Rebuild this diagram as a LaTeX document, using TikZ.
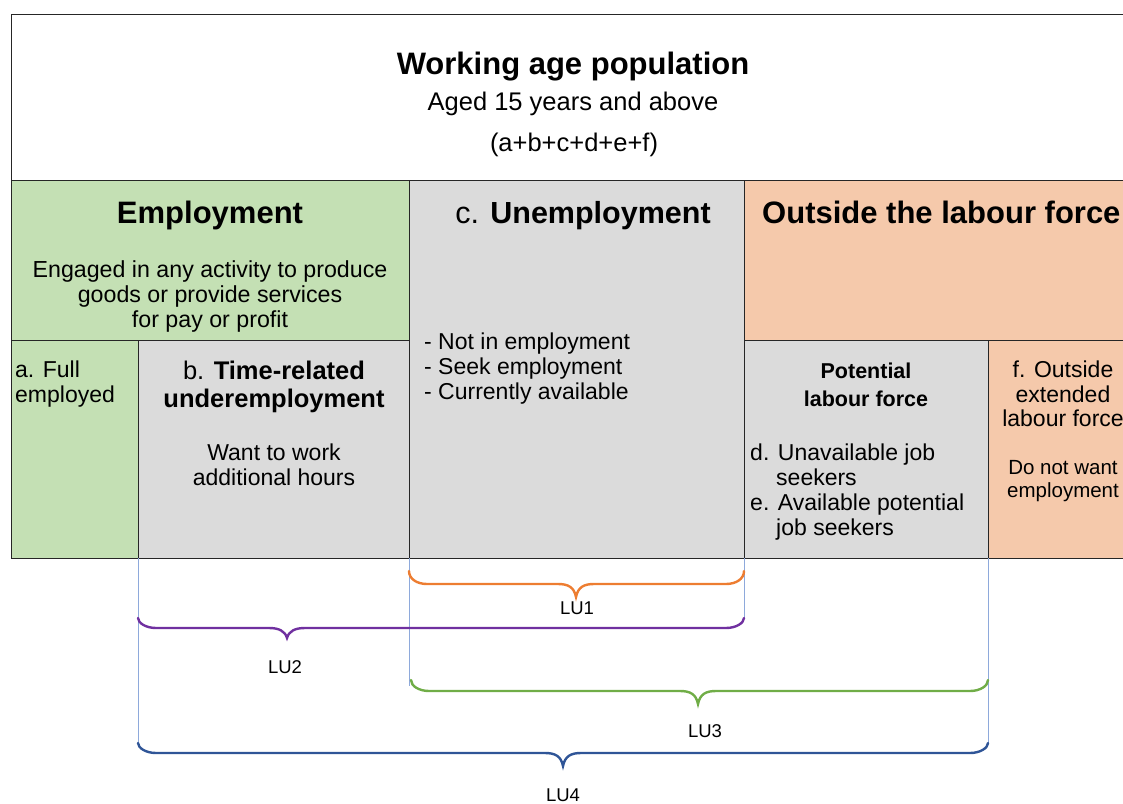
\documentclass[tikz,border=0pt]{standalone}
\usepackage{fontspec}
\setmainfont{Liberation Sans}
\definecolor{empgreen}{RGB}{196,224,180}
\definecolor{ungray}{RGB}{219,219,219}
\definecolor{outpeach}{RGB}{245,201,171}
\definecolor{luorange}{RGB}{237,125,49}
\definecolor{lupurple}{RGB}{112,48,160}
\definecolor{lugreen}{RGB}{112,173,71}
\definecolor{lublue}{RGB}{47,85,151}
\definecolor{guide}{RGB}{142,169,219}
\newcommand{\fs}[1]{\fontsize{#1}{#1}\selectfont}
% colour, x-left, x-right, x-tip, y-end, y-line, y-tip
\newcommand{\lubrace}[7]{%
  \draw[#1,line width=2.4pt,line cap=round]
    (#2,#5) .. controls (#2,{#6-5}) and ({#2+8},#6) .. ({#2+18},#6)
    -- ({#4-18},#6) .. controls ({#4-8},#6) and ({#4-2},{#6+3}) .. (#4,#7)
    .. controls ({#4+2},{#6+3}) and ({#4+8},#6) .. ({#4+18},#6)
    -- ({#3-18},#6) .. controls ({#3-8},#6) and (#3,{#6-5}) .. (#3,#5);}
\begin{document}
\begin{tikzpicture}[x=1pt,y=-1pt,
  box/.style={draw=black!85,line width=1pt},
  txt/.style={anchor=base,inner sep=0pt},
  guideline/.style={draw=guide,line width=0.8pt}]
\useasboundingbox (0,0) rectangle (1123,803);
\clip (0,0) rectangle (1123,803);
% boxes
\path[box,fill=white] (11,14) rectangle (1140,180);
\path[box,fill=empgreen] (11,180) rectangle (409,340);
\path[box,fill=ungray] (409,180) rectangle (744,558);
\path[box,fill=outpeach] (744,180) rectangle (1140,340);
\path[box,fill=empgreen] (11,340) rectangle (138,558);
\path[box,fill=ungray] (138,340) rectangle (409,558);
\path[box,fill=ungray] (744,340) rectangle (988,558);
\path[box,fill=outpeach] (988,340) rectangle (1140,558);
% top texts
\node[txt,font=\fs{31}\bfseries] (t1) at (573,74) {Working age population};
\node[txt,font=\fs{25.5}] (t2) at (573,110) {Aged 15 years and above};
\node[txt,font=\fs{25.5}] (t3) at (574,151) {(a+b+c+d+e+f)};
% employment
\node[txt,font=\fs{31}\bfseries] (e1) at (210,223) {Employment};
\node[txt,font=\fs{23.2}] (e2) at (210,277) {Engaged in any activity to produce};
\node[txt,font=\fs{23.2}] (e3) at (210,302) {goods or provide services};
\node[txt,font=\fs{23.2}] (e4) at (210,327) {for pay or profit};
% unemployment
\node[txt,font=\fs{30.5}] (u1) at (583,223) {c. \textbf{Unemployment}};
\node[txt,font=\fs{23},anchor=base west] (u2) at (424,349) {- Not in employment};
\node[txt,font=\fs{23},anchor=base west] (u3) at (424,374) {- Seek employment};
\node[txt,font=\fs{23},anchor=base west] (u4) at (424,399) {- Currently available};
% outside
\node[txt,font=\fs{31}\bfseries,anchor=base west] (o1) at (762,223) {Outside the labour force};
% a
\node[txt,font=\fs{23},anchor=base west] (a1) at (15,377) {a. Full};
\node[txt,font=\fs{23},anchor=base west] (a2) at (15,402) {employed};
% b
\node[txt,font=\fs{25.5}] (b1) at (274,379) {b. \textbf{Time-related}};
\node[txt,font=\fs{25.5}\bfseries] (b2) at (274,407) {underemployment};
\node[txt,font=\fs{23}] (b3) at (274,460) {Want to work};
\node[txt,font=\fs{23}] (b4) at (274,485) {additional hours};
% potential
\node[txt,font=\fs{21.5}\bfseries] (p1) at (866,378) {Potential};
\node[txt,font=\fs{21.5}\bfseries] (p2) at (866,406) {labour force};
\node[txt,font=\fs{23},anchor=base west] (p3) at (750,460) {d. Unavailable job};
\node[txt,font=\fs{23},anchor=base west] (p4) at (776,485) {seekers};
\node[txt,font=\fs{23},anchor=base west] (p5) at (750,510) {e. Available potential};
\node[txt,font=\fs{23},anchor=base west] (p6) at (776,535) {job seekers};
% f
\node[txt,font=\fs{23}] (f1) at (1063,377) {f. Outside};
\node[txt,font=\fs{23}] (f2) at (1063,402) {extended};
\node[txt,font=\fs{23}] (f3) at (1063,426) {labour force};
\node[txt,font=\fs{20.5}] (f4) at (1063,474) {Do not want};
\node[txt,font=\fs{20.5}] (f5) at (1063,497) {employment};
% guides
\draw[guideline] (138,558) -- (138,745);
\draw[guideline] (409,558) -- (409,686);
\draw[guideline] (744,558) -- (744,618);
\draw[guideline] (988,558) -- (988,745);
% braces
\lubrace{luorange}{409}{744}{576}{571}{584}{597}
\lubrace{lupurple}{138}{744}{287}{618}{628}{638}
\lubrace{lugreen}{411}{988}{698}{680}{691}{704}
\lubrace{lublue}{138}{988}{563}{743}{753}{766}
\node[txt,font=\fs{18.5}] (l1) at (577,614) {LU1};
\node[txt,font=\fs{18.5}] (l2) at (285,673) {LU2};
\node[txt,font=\fs{18.5}] (l3) at (705,737) {LU3};
\node[txt,font=\fs{18.5}] (l4) at (563,801) {LU4};
\end{tikzpicture}
\end{document}
